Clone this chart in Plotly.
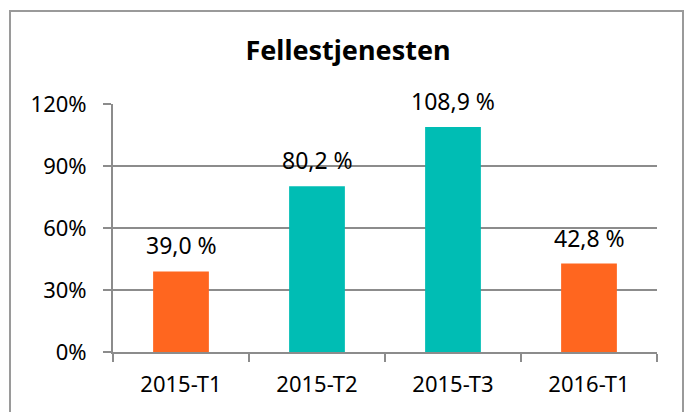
import plotly.graph_objects as go

categories = ["2015-T1", "2015-T2", "2015-T3", "2016-T1"]
values = [39.0, 80.2, 108.9, 42.8]
value_labels = ["39,0 %", "80,2 %", "108,9 %", "42,8 %"]
bar_colors = ["#FF661F", "#00BDB4", "#00BDB4", "#FF661F"]
y_ticks = [0, 30, 60, 90, 120]
y_tick_labels = ["0%", "30%", "60%", "90%", "120%"]

FONT = "Noto Sans"
GRAY = "#8C8C8C"

fig = go.Figure()
fig.add_trace(go.Bar(
    x=categories, y=values, marker_color=bar_colors, width=0.41,
    marker_line_width=0, hoverinfo="skip",
))

for c, v, t in zip(categories, values, value_labels):
    fig.add_annotation(x=c, y=v, text=t, showarrow=False, yanchor="middle",
                       yshift=26, font=dict(family=FONT, size=23, color="#000000"))

W, H = 689, 412
L, R, T, B = 113, 32, 104, 60
pw, ph = W - L - R, H - T - B

def px_x(p):
    return (p - L) / pw

def px_y(p):
    return (H - B - p) / ph

fig.add_shape(type="rect", xref="paper", yref="paper",
              x0=px_x(10), x1=px_x(683), y0=px_y(430), y1=px_y(11),
              line=dict(color="#9A9A9A", width=2), fillcolor="rgba(0,0,0,0)", layer="below")

fig.update_layout(
    width=W, height=H,
    margin=dict(l=L, r=R, t=T, b=B),
    paper_bgcolor="white", plot_bgcolor="white",
    showlegend=False,
    title=dict(text="<b>Fellestjenesten</b>", x=(348 / W), xanchor="center",
               y=1 - 51 / H, yanchor="middle", yref="container",
               font=dict(family=FONT, size=27, color="#000000")),
    xaxis=dict(
        type="category", tickson="boundaries", ticks="outside", ticklen=8,
        tickwidth=2, tickcolor=GRAY, showline=True, linecolor=GRAY, linewidth=2,
        showgrid=False, ticklabelstandoff=12,
        tickfont=dict(family=FONT, size=22, color="#000000"),
    ),
    yaxis=dict(
        range=[0, 120], tickvals=y_ticks, ticktext=y_tick_labels,
        ticks="outside", ticklen=8, tickwidth=2, tickcolor=GRAY,
        showline=True, linecolor=GRAY, linewidth=2,
        showgrid=True, gridcolor=GRAY, gridwidth=2, zeroline=False,
        ticklabelstandoff=12,
        tickfont=dict(family=FONT, size=22, color="#000000"),
    ),
)

fig.write_html("out.html", post_script="document.body.style.margin='0';",
               config={"displayModeBar": False, "staticPlot": True})
